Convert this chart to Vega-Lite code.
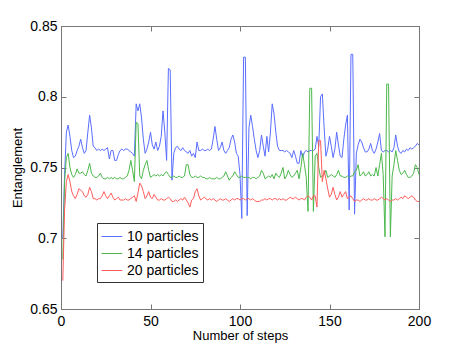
{
"$schema": "https://vega.github.io/schema/vega-lite/v6.json",
"width": 358, "height": 283,
"autosize": {"type": "none"},
"padding": {"left": 61, "top": 26, "right": 44, "bottom": 39},
"background": "white",
"config": {"font": "Liberation Sans", "view": {"stroke": "#777", "strokeWidth": 1},
  "axis": {"domain": false, "grid": false, "ticks": true, "tickColor": "#777", "tickWidth": 1, "tickSize": 5, "offset": -5, "labelFontSize": 14, "labelColor": "#000", "titleFontSize": 13, "titleFontWeight": "normal", "titleColor": "#000", "labelFont": "Liberation Sans", "titleFont": "Liberation Sans"}},
"data": {"values": [
{"s":1,"a":0.700,"b":0.685,"c":0.670},{"s":2,"a":0.745,"b":0.740,"c":0.720},{"s":3,"a":0.775,"b":0.757,"c":0.740},{"s":4,"a":0.780,"b":0.760,"c":0.745},{"s":5,"a":0.772,"b":0.750,"c":0.740},
{"s":6,"a":0.762,"b":0.745,"c":0.733},{"s":7,"a":0.757,"b":0.743,"c":0.730},{"s":8,"a":0.758,"b":0.745,"c":0.728},{"s":9,"a":0.762,"b":0.749,"c":0.731},{"s":10,"a":0.765,"b":0.746,"c":0.735},
{"s":11,"a":0.770,"b":0.746,"c":0.734},{"s":12,"a":0.764,"b":0.747,"c":0.733},{"s":13,"a":0.760,"b":0.745,"c":0.730},{"s":14,"a":0.762,"b":0.744,"c":0.729},{"s":15,"a":0.775,"b":0.748,"c":0.731},
{"s":16,"a":0.787,"b":0.753,"c":0.736},{"s":17,"a":0.778,"b":0.746,"c":0.733},{"s":18,"a":0.765,"b":0.744,"c":0.728},{"s":19,"a":0.764,"b":0.743,"c":0.728},{"s":20,"a":0.762,"b":0.743,"c":0.727},
{"s":21,"a":0.763,"b":0.744,"c":0.728},{"s":22,"a":0.762,"b":0.746,"c":0.728},{"s":23,"a":0.763,"b":0.743,"c":0.730},{"s":24,"a":0.762,"b":0.742,"c":0.733},{"s":25,"a":0.763,"b":0.742,"c":0.730},
{"s":26,"a":0.764,"b":0.743,"c":0.728},{"s":27,"a":0.756,"b":0.742,"c":0.730},{"s":28,"a":0.762,"b":0.743,"c":0.732},{"s":29,"a":0.762,"b":0.742,"c":0.729},{"s":30,"a":0.755,"b":0.743,"c":0.727},
{"s":31,"a":0.755,"b":0.742,"c":0.728},{"s":32,"a":0.759,"b":0.742,"c":0.729},{"s":33,"a":0.762,"b":0.743,"c":0.727},{"s":34,"a":0.763,"b":0.742,"c":0.727},{"s":35,"a":0.762,"b":0.742,"c":0.727},
{"s":36,"a":0.763,"b":0.743,"c":0.728},{"s":37,"a":0.763,"b":0.744,"c":0.727},{"s":38,"a":0.762,"b":0.748,"c":0.727},{"s":39,"a":0.761,"b":0.755,"c":0.728},{"s":40,"a":0.760,"b":0.748,"c":0.729},
{"s":41,"a":0.758,"b":0.740,"c":0.730},{"s":42,"a":0.795,"b":0.782,"c":0.726},{"s":43,"a":0.790,"b":0.781,"c":0.732},{"s":44,"a":0.795,"b":0.744,"c":0.739},{"s":45,"a":0.785,"b":0.742,"c":0.737},
{"s":46,"a":0.770,"b":0.748,"c":0.733},{"s":47,"a":0.760,"b":0.752,"c":0.728},{"s":48,"a":0.763,"b":0.755,"c":0.730},{"s":49,"a":0.768,"b":0.748,"c":0.733},{"s":50,"a":0.775,"b":0.743,"c":0.729},
{"s":51,"a":0.766,"b":0.744,"c":0.728},{"s":52,"a":0.763,"b":0.745,"c":0.731},{"s":53,"a":0.768,"b":0.744,"c":0.729},{"s":54,"a":0.762,"b":0.745,"c":0.727},{"s":55,"a":0.765,"b":0.744,"c":0.727},
{"s":56,"a":0.772,"b":0.745,"c":0.728},{"s":57,"a":0.790,"b":0.744,"c":0.727},{"s":58,"a":0.775,"b":0.746,"c":0.727},{"s":59,"a":0.755,"b":0.747,"c":0.728},{"s":60,"a":0.820,"b":0.745,"c":0.729},
{"s":61,"a":0.819,"b":0.743,"c":0.728},{"s":62,"a":0.741,"b":0.743,"c":0.726},{"s":63,"a":0.760,"b":0.744,"c":0.726},{"s":64,"a":0.764,"b":0.743,"c":0.727},{"s":65,"a":0.765,"b":0.743,"c":0.726},
{"s":66,"a":0.763,"b":0.744,"c":0.727},{"s":67,"a":0.762,"b":0.743,"c":0.728},{"s":68,"a":0.764,"b":0.743,"c":0.727},{"s":69,"a":0.762,"b":0.744,"c":0.729},{"s":70,"a":0.761,"b":0.752,"c":0.727},
{"s":71,"a":0.760,"b":0.752,"c":0.725},{"s":72,"a":0.762,"b":0.745,"c":0.722},{"s":73,"a":0.758,"b":0.743,"c":0.727},{"s":74,"a":0.760,"b":0.743,"c":0.728},{"s":75,"a":0.757,"b":0.744,"c":0.733},
{"s":76,"a":0.768,"b":0.743,"c":0.735},{"s":77,"a":0.762,"b":0.743,"c":0.730},{"s":78,"a":0.762,"b":0.744,"c":0.727},{"s":79,"a":0.763,"b":0.743,"c":0.728},{"s":80,"a":0.762,"b":0.743,"c":0.729},
{"s":81,"a":0.762,"b":0.742,"c":0.728},{"s":82,"a":0.763,"b":0.742,"c":0.727},{"s":83,"a":0.762,"b":0.743,"c":0.728},{"s":84,"a":0.763,"b":0.742,"c":0.727},{"s":85,"a":0.770,"b":0.742,"c":0.728},
{"s":86,"a":0.779,"b":0.742,"c":0.727},{"s":87,"a":0.770,"b":0.743,"c":0.726},{"s":88,"a":0.762,"b":0.742,"c":0.727},{"s":89,"a":0.764,"b":0.742,"c":0.728},{"s":90,"a":0.768,"b":0.743,"c":0.727},
{"s":91,"a":0.762,"b":0.744,"c":0.727},{"s":92,"a":0.760,"b":0.747,"c":0.728},{"s":93,"a":0.762,"b":0.744,"c":0.727},{"s":94,"a":0.764,"b":0.741,"c":0.726},{"s":95,"a":0.770,"b":0.743,"c":0.727},
{"s":96,"a":0.773,"b":0.744,"c":0.728},{"s":97,"a":0.768,"b":0.747,"c":0.727},{"s":98,"a":0.760,"b":0.745,"c":0.728},{"s":99,"a":0.758,"b":0.743,"c":0.728},{"s":100,"a":0.745,"b":0.743,"c":0.727},
{"s":101,"a":0.714,"b":0.744,"c":0.728},{"s":102,"a":0.828,"b":0.743,"c":0.728},{"s":103,"a":0.828,"b":0.743,"c":0.727},{"s":104,"a":0.716,"b":0.743,"c":0.728},{"s":105,"a":0.778,"b":0.743,"c":0.728},
{"s":106,"a":0.787,"b":0.742,"c":0.727},{"s":107,"a":0.779,"b":0.743,"c":0.728},{"s":108,"a":0.770,"b":0.743,"c":0.727},{"s":109,"a":0.762,"b":0.742,"c":0.726},{"s":110,"a":0.757,"b":0.743,"c":0.726},
{"s":111,"a":0.762,"b":0.744,"c":0.726},{"s":112,"a":0.773,"b":0.748,"c":0.727},{"s":113,"a":0.765,"b":0.746,"c":0.727},{"s":114,"a":0.758,"b":0.742,"c":0.728},{"s":115,"a":0.772,"b":0.743,"c":0.727},
{"s":116,"a":0.761,"b":0.744,"c":0.728},{"s":117,"a":0.775,"b":0.743,"c":0.728},{"s":118,"a":0.795,"b":0.745,"c":0.727},{"s":119,"a":0.788,"b":0.742,"c":0.728},{"s":120,"a":0.775,"b":0.746,"c":0.728},
{"s":121,"a":0.765,"b":0.744,"c":0.727},{"s":122,"a":0.762,"b":0.743,"c":0.728},{"s":123,"a":0.762,"b":0.746,"c":0.727},{"s":124,"a":0.762,"b":0.750,"c":0.728},{"s":125,"a":0.761,"b":0.742,"c":0.727},
{"s":126,"a":0.762,"b":0.744,"c":0.727},{"s":127,"a":0.761,"b":0.748,"c":0.728},{"s":128,"a":0.760,"b":0.745,"c":0.729},{"s":129,"a":0.757,"b":0.743,"c":0.728},{"s":130,"a":0.762,"b":0.744,"c":0.728},
{"s":131,"a":0.758,"b":0.746,"c":0.729},{"s":132,"a":0.753,"b":0.748,"c":0.728},{"s":133,"a":0.753,"b":0.742,"c":0.727},{"s":134,"a":0.762,"b":0.750,"c":0.728},{"s":135,"a":0.757,"b":0.760,"c":0.728},
{"s":136,"a":0.761,"b":0.752,"c":0.727},{"s":137,"a":0.762,"b":0.743,"c":0.729},{"s":138,"a":0.761,"b":0.719,"c":0.730},{"s":139,"a":0.762,"b":0.806,"c":0.729},{"s":140,"a":0.762,"b":0.806,"c":0.727},
{"s":141,"a":0.762,"b":0.719,"c":0.730},{"s":142,"a":0.763,"b":0.758,"c":0.730},{"s":143,"a":0.772,"b":0.760,"c":0.722},{"s":144,"a":0.765,"b":0.750,"c":0.769},{"s":145,"a":0.800,"b":0.743,"c":0.769},
{"s":146,"a":0.802,"b":0.744,"c":0.740},{"s":147,"a":0.778,"b":0.745,"c":0.748},{"s":148,"a":0.758,"b":0.748,"c":0.742},{"s":149,"a":0.763,"b":0.743,"c":0.735},{"s":150,"a":0.772,"b":0.744,"c":0.729},
{"s":151,"a":0.765,"b":0.745,"c":0.731},{"s":152,"a":0.757,"b":0.744,"c":0.736},{"s":153,"a":0.763,"b":0.743,"c":0.731},{"s":154,"a":0.775,"b":0.745,"c":0.727},{"s":155,"a":0.766,"b":0.748,"c":0.729},
{"s":156,"a":0.758,"b":0.744,"c":0.733},{"s":157,"a":0.757,"b":0.744,"c":0.729},{"s":158,"a":0.770,"b":0.743,"c":0.731},{"s":159,"a":0.780,"b":0.743,"c":0.733},{"s":160,"a":0.787,"b":0.744,"c":0.728},
{"s":161,"a":0.720,"b":0.743,"c":0.729},{"s":162,"a":0.830,"b":0.744,"c":0.730},{"s":163,"a":0.830,"b":0.744,"c":0.728},{"s":164,"a":0.717,"b":0.747,"c":0.726},{"s":165,"a":0.760,"b":0.748,"c":0.727},
{"s":166,"a":0.766,"b":0.752,"c":0.727},{"s":167,"a":0.770,"b":0.744,"c":0.726},{"s":168,"a":0.768,"b":0.745,"c":0.727},{"s":169,"a":0.764,"b":0.747,"c":0.728},{"s":170,"a":0.761,"b":0.744,"c":0.727},
{"s":171,"a":0.761,"b":0.745,"c":0.727},{"s":172,"a":0.763,"b":0.747,"c":0.728},{"s":173,"a":0.767,"b":0.744,"c":0.727},{"s":174,"a":0.762,"b":0.745,"c":0.727},{"s":175,"a":0.760,"b":0.744,"c":0.728},
{"s":176,"a":0.763,"b":0.750,"c":0.727},{"s":177,"a":0.768,"b":0.744,"c":0.727},{"s":178,"a":0.774,"b":0.752,"c":0.728},{"s":179,"a":0.762,"b":0.760,"c":0.729},{"s":180,"a":0.761,"b":0.745,"c":0.728},
{"s":181,"a":0.762,"b":0.701,"c":0.727},{"s":182,"a":0.762,"b":0.809,"c":0.728},{"s":183,"a":0.761,"b":0.809,"c":0.727},{"s":184,"a":0.762,"b":0.701,"c":0.726},{"s":185,"a":0.761,"b":0.744,"c":0.727},
{"s":186,"a":0.764,"b":0.752,"c":0.727},{"s":187,"a":0.773,"b":0.762,"c":0.728},{"s":188,"a":0.765,"b":0.755,"c":0.727},{"s":189,"a":0.761,"b":0.748,"c":0.728},{"s":190,"a":0.760,"b":0.745,"c":0.729},
{"s":191,"a":0.762,"b":0.746,"c":0.728},{"s":192,"a":0.761,"b":0.748,"c":0.730},{"s":193,"a":0.763,"b":0.745,"c":0.729},{"s":194,"a":0.762,"b":0.743,"c":0.728},{"s":195,"a":0.764,"b":0.743,"c":0.729},
{"s":196,"a":0.763,"b":0.744,"c":0.730},{"s":197,"a":0.764,"b":0.746,"c":0.729},{"s":198,"a":0.765,"b":0.752,"c":0.727},{"s":199,"a":0.767,"b":0.750,"c":0.726},{"s":200,"a":0.766,"b":0.745,"c":0.726}
]},
"transform": [{"fold": ["a", "b", "c"], "as": ["k", "v"]}],
"layer": [
 {"mark": {"type": "line", "strokeWidth": 1, "clip": true},
  "encoding": {
   "x": {"field": "s", "type": "quantitative", "scale": {"domain": [0, 200], "nice": false, "zero": false}, "axis": {"values": [0, 50, 100, 150, 200], "title": "Number of steps", "labelPadding": 5, "titlePadding": 1, "labelFlush": false}},
   "y": {"field": "v", "type": "quantitative", "scale": {"domain": [0.65, 0.85], "nice": false, "zero": false}, "axis": {"values": [0.65, 0.7, 0.75, 0.8, 0.85], "format": ".2~f", "title": "Entanglement", "labelPadding": 4, "titlePadding": 5, "labelFlush": false}},
   "color": {"field": "k", "type": "nominal", "scale": {"domain": ["a", "b", "c"], "range": ["#5a6eff", "#4cb84c", "#ff5c5c"]},
    "legend": {"title": null, "orient": "none", "legendX": 36, "legendY": 197, "symbolType": "M-1,0H1.3", "symbolSize": 324, "symbolStrokeWidth": 1, "labelOffset": 7, "labelFontSize": 14, "labelFont": "Liberation Sans", "labelColor": "#000", "padding": 4, "rowPadding": 0, "strokeColor": "#333", "fillColor": "white",
     "labelExpr": "datum.label == 'a' ? '10 particles' : datum.label == 'b' ? '14 particles' : '20 particles'"}}
  }},
 {"mark": {"type": "line", "opacity": 0},
  "encoding": {
   "x": {"field": "s", "type": "quantitative", "axis": {"orient": "top", "values": [0, 50, 100, 150, 200], "labels": false, "title": null}},
   "y": {"field": "v", "type": "quantitative", "axis": {"orient": "right", "values": [0.65, 0.7, 0.75, 0.8, 0.85], "labels": false, "title": null}}
  }}
],
"resolve": {"axis": {"x": "independent", "y": "independent"}}
}
